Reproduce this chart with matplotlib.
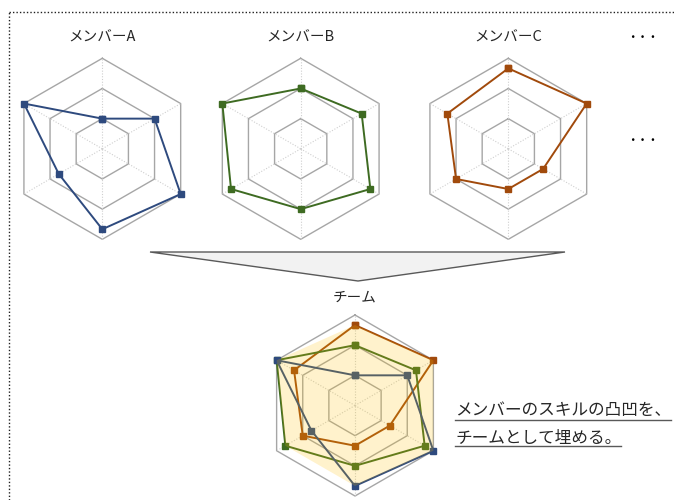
import numpy as np
import matplotlib
matplotlib.use('Agg')
import matplotlib.pyplot as plt
from matplotlib.lines import Line2D
from matplotlib.patches import Polygon

plt.rcParams['font.family'] = ['Noto Sans CJK JP', 'DejaVu Sans']

# ---- data -------------------------------------------------------------
member_names = ['メンバーA', 'メンバーB', 'メンバーC']
team_title = 'チーム'
# six skill axes, clockwise from the top
member_a = [3, 6, 9, 8, 5, 9]
member_b = [6, 7, 8, 6, 8, 9]
member_c = [8, 9, 4, 4, 6, 7]
member_colors = ['#2E4A7E', '#3E6B22', '#A14A0C']
ring_levels = [3, 6, 9]
r_max = 9
message_lines = ['メンバーのスキルの凸凹を、', 'チームとして埋める。']
ellipsis = '・・・'

# ---- figure -----------------------------------------------------------
W, H = 674, 500
fig = plt.figure(figsize=(W / 100, H / 100), dpi=100)
fig.patch.set_facecolor('white')

members = [member_a, member_b, member_c]
n = len(member_a)
theta = np.deg2rad(np.arange(n) * 360 / n)
theta_closed = np.append(theta, theta[0])


def closed(v):
    return list(v) + [v[0]]


def px(x, y):
    return x / W, 1 - y / H


def radar_axes(cx, cy, R=90.5):
    ax = fig.add_axes([(cx - R) / W, (H - cy - R) / H, 2 * R / W, 2 * R / H],
                      projection='polar')
    ax.set_theta_zero_location('N')
    ax.set_theta_direction(-1)
    ax.set_ylim(0, r_max)
    ax.axis('off')
    for lvl in ring_levels:
        ax.plot(theta_closed, [lvl] * (n + 1), color='#a6a6a6', lw=1.0,
                zorder=1, clip_on=False)
    for t in theta:
        ax.plot([t, t], [0, r_max], color='#cfcfcf', lw=0.8,
                ls=(0, (1, 1.5)), zorder=1, clip_on=False)
    return ax


def draw_member(ax, vals, color, z=2.0):
    ax.plot(theta_closed, closed(vals), color=color, lw=1.4, marker='s',
            markersize=4.0, markeredgecolor=color, markerfacecolor=color,
            zorder=z, clip_on=False)


centers = [(102.3, 148.8), (300.7, 148.8), (508.3, 148.8)]
for (cx, cy), vals, col, name in zip(centers, members, member_colors, member_names):
    ax = radar_axes(cx, cy)
    draw_member(ax, vals, col)
    fig.text(*px(cx, 38), name, ha='center', va='center', fontsize=10.5,
             color='#262626')

# ellipsis marks
for y in (38, 141):
    fig.text(*px(643, y), ellipsis, ha='center', va='center', fontsize=7.5,
             fontweight='bold', color='#000000')

# funnel
funnel = Polygon([px(150, 252), px(565, 252), px(358, 281)], closed=True,
                 transform=fig.transFigure, facecolor='#f2f2f2',
                 edgecolor='#595959', lw=1.0)
fig.patches.append(funnel)

# team chart (member A drawn on top)
tcx, tcy = 355, 405.5
ax_t = radar_axes(tcx, tcy)
for i, (vals, col) in enumerate(zip(members, member_colors)):
    draw_member(ax_t, vals, col, z=2.3 - 0.1 * i)
team_max = np.max(np.array(members), axis=0)
ax_t.fill(theta_closed, closed(team_max), color='#FFC000', alpha=0.2, lw=0,
          zorder=3, clip_on=False)
fig.text(*px(tcx, 298), team_title, ha='center', va='center', fontsize=10.5,
         color='#262626')

# message text with underline
msg_y = [411, 439]
texts = []
for line, y in zip(message_lines, msg_y):
    texts.append(fig.text(*px(455, y), line, ha='left', va='center',
                          fontsize=12.0, color='#262626'))

# dotted frame
fig.add_artist(Line2D([8.5 / W, 8.5 / W], [0, 1 - 11.5 / H], transform=fig.transFigure,
                      color='#202020', lw=1.0, ls=(0, (1, 1.5))))
fig.add_artist(Line2D([8.5 / W, 1], [1 - 11.5 / H, 1 - 11.5 / H], transform=fig.transFigure,
                      color='#202020', lw=1.0, ls=(0, (1, 1.5))))

fig.canvas.draw()
renderer = fig.canvas.get_renderer()
for t, uy in zip(texts, [420, 446]):
    bb = t.get_window_extent(renderer)
    x0, x1 = bb.x0 / W, min(bb.x1, W - 1) / W
    fig.add_artist(Line2D([x0, x1], [1 - uy / H] * 2, transform=fig.transFigure,
                          color='#595959', lw=1.0))

fig.savefig('out.png', dpi=100, facecolor='white')
